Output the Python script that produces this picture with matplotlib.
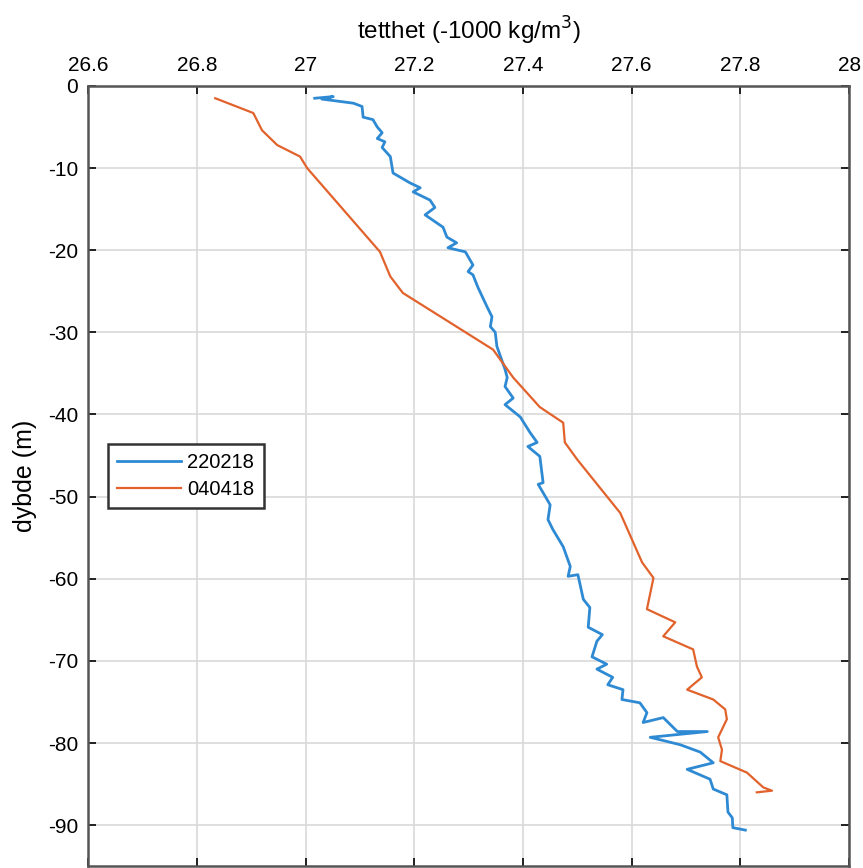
import matplotlib
matplotlib.use("Agg")
import matplotlib.pyplot as plt

# density profiles (sigma), depth in m (negative down)
dens_220218 = [27.017, 27.051, 27.030, 27.088, 27.104, 27.106, 27.124, 27.132, 27.141, 27.132,
               27.146, 27.141, 27.156, 27.161, 27.192, 27.211, 27.198, 27.229, 27.238, 27.220,
               27.253, 27.260, 27.278, 27.262, 27.294, 27.308, 27.299, 27.308, 27.317, 27.334,
               27.343, 27.340, 27.349, 27.352, 27.367, 27.371, 27.367, 27.382, 27.367, 27.395,
               27.413, 27.426, 27.409, 27.431, 27.437, 27.428, 27.450, 27.446, 27.455, 27.474,
               27.487, 27.483, 27.501, 27.511, 27.523, 27.520, 27.546, 27.536, 27.527, 27.554,
               27.536, 27.565, 27.556, 27.584, 27.582, 27.615, 27.628, 27.621, 27.658, 27.684,
               27.739, 27.634, 27.689, 27.726, 27.750, 27.702, 27.744, 27.750, 27.775, 27.777,
               27.785, 27.786, 27.809]
depth_220218 = [-1.5, -1.3, -1.6, -2.1, -2.5, -3.8, -4.1, -5.0, -5.7, -6.4,
                -6.8, -7.5, -8.6, -10.6, -11.8, -12.4, -12.9, -13.9, -14.8, -15.7,
                -17.2, -18.4, -19.1, -19.7, -20.2, -21.8, -22.6, -23.0, -24.5, -26.9,
                -28.1, -29.3, -30.0, -31.7, -34.5, -35.5, -36.6, -38.0, -38.8, -40.3,
                -42.2, -43.4, -43.9, -45.1, -48.3, -48.5, -51.0, -52.8, -54.0, -56.1,
                -58.5, -59.7, -59.5, -62.5, -63.5, -65.9, -66.8, -67.6, -69.5, -70.4,
                -71.0, -72.0, -72.9, -73.5, -74.7, -75.1, -76.3, -77.5, -76.9, -78.6,
                -78.6, -79.3, -80.2, -81.1, -82.4, -83.2, -84.4, -85.6, -86.3, -88.4,
                -89.1, -90.3, -90.6]

dens_040418 = [26.834, 26.904, 26.920, 26.948, 26.990, 27.003, 27.137, 27.156, 27.179, 27.345,
               27.382, 27.431, 27.474, 27.477, 27.500, 27.579, 27.603, 27.619, 27.640, 27.628,
               27.680, 27.658, 27.713, 27.720, 27.729, 27.702, 27.750, 27.772, 27.775, 27.759,
               27.766, 27.763, 27.812, 27.842, 27.858, 27.830]
depth_040418 = [-1.5, -3.3, -5.4, -7.2, -8.6, -10.0, -20.2, -23.2, -25.2, -32.1,
                -35.5, -39.1, -41.0, -43.4, -45.5, -52.0, -55.6, -58.0, -59.9, -63.7,
                -65.3, -67.0, -68.6, -70.7, -72.0, -73.5, -74.7, -75.9, -77.1, -79.3,
                -80.8, -82.2, -83.6, -85.4, -85.8, -86.0]

xticks = [26.6, 26.8, 27, 27.2, 27.4, 27.6, 27.8, 28]
xticklabels = ["26.6", "26.8", "27", "27.2", "27.4", "27.6", "27.8", "28"]
yticks = [0, -10, -20, -30, -40, -50, -60, -70, -80, -90]

plt.rcParams['font.family'] = ['Liberation Sans', 'DejaVu Sans']
plt.rcParams['axes.unicode_minus'] = False

fig = plt.figure(figsize=(8.63, 8.68), dpi=100)
ax = fig.add_axes([0.102, 0.002, 0.882, 0.899])

ax.plot(dens_220218, depth_220218, color='#2f8ad4', lw=2.0, label='220218')
ax.plot(dens_040418, depth_040418, color='#e2622c', lw=1.6, label='040418')

ax.set_xlim(26.6, 28)
ax.set_ylim(-95, 0)
ax.set_xticks(xticks)
ax.set_xticklabels(xticklabels)
ax.set_yticks(yticks)
ax.xaxis.tick_top()
ax.xaxis.set_label_position('top')
ax.tick_params(axis='both', direction='in', length=6, width=1.2, labelsize=15,
               top=True, bottom=True, left=True, right=True, color='black')
ax.tick_params(axis='x', pad=8)
ax.tick_params(axis='y', pad=7)
ax.grid(True, color='#d9d9d9', lw=1.2)
ax.set_axisbelow(True)
for s in ax.spines.values():
    s.set_color('#555555')
    s.set_linewidth(1.8)

ax.set_xlabel("tetthet (-1000 kg/m$^3$)", fontsize=17.5, labelpad=12)
ax.set_ylabel("dybde (m)", fontsize=18, labelpad=8)

leg = ax.legend(loc='upper left', bbox_to_anchor=(0.026, 0.541), fontsize=14.5,
                fancybox=False, framealpha=1, edgecolor='#333333', handlelength=3.2,
                borderpad=0.45, labelspacing=0.4, handletextpad=0.3, borderaxespad=0)
leg.get_frame().set_linewidth(1.8)

fig.savefig("out.png", dpi=100)
